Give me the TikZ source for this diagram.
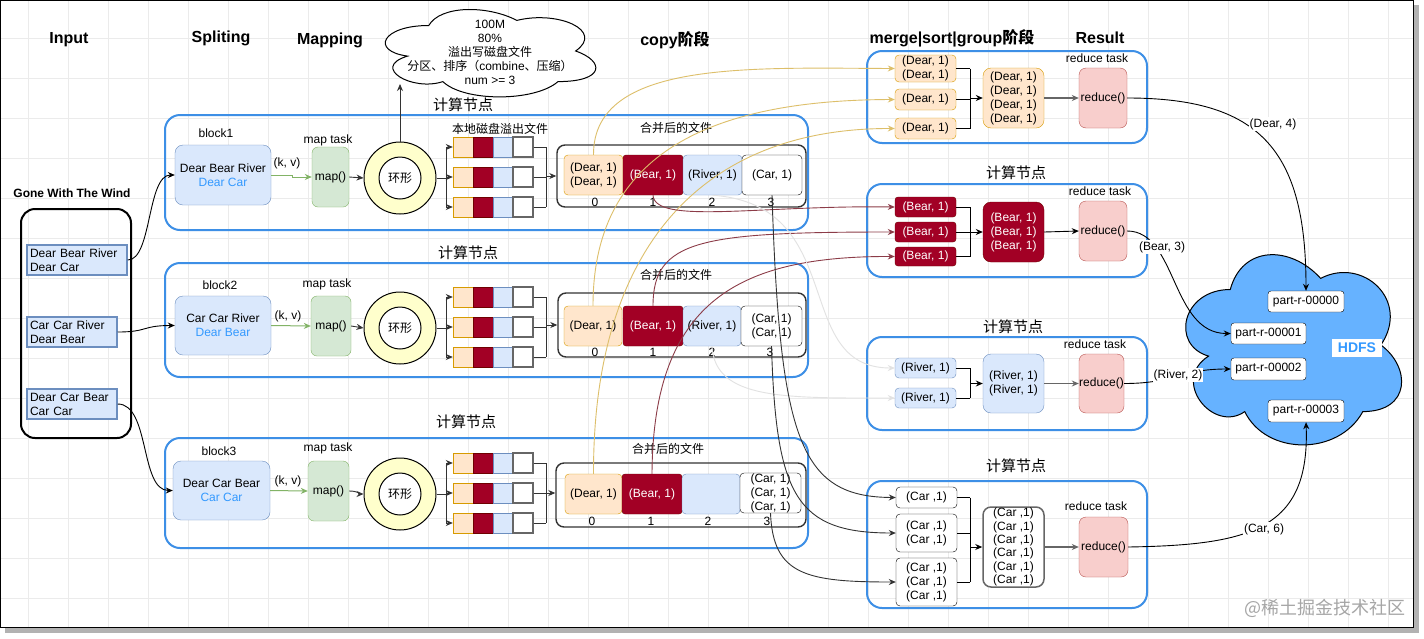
\documentclass[tikz,border=0pt]{standalone}
\usepackage{fontspec}
\setmainfont{Liberation Sans}
\newfontfamily\cjk{Noto Sans CJK SC}
\usetikzlibrary{arrows.meta}
\definecolor{nodeblue}{HTML}{3D8FE6}
\definecolor{peachF}{HTML}{FFE6CC}
\definecolor{peachD}{HTML}{D79B00}
\definecolor{redF}{HTML}{A20025}
\definecolor{redD}{HTML}{6F0000}
\definecolor{blueF}{HTML}{DAE8FC}
\definecolor{blueD}{HTML}{6C8EBF}
\definecolor{greenF}{HTML}{D5E8D4}
\definecolor{greenD}{HTML}{82B366}
\definecolor{pinkF}{HTML}{F8CECC}
\definecolor{pinkD}{HTML}{B85450}
\definecolor{ringF}{HTML}{FFFFCC}
\definecolor{txtblue}{HTML}{3399FF}
\definecolor{hdfsF}{HTML}{66B2FF}
\definecolor{ycurC}{HTML}{DDBF6A}
\definecolor{rcurC}{HTML}{8C3C48}
\definecolor{gcurC}{HTML}{E2E2E2}
\definecolor{gridc}{HTML}{EBEBEB}
\newcommand\myfs{\fontsize{12}{14}\selectfont}
\newcommand\myfh{\fontsize{16}{18}\selectfont\bfseries}
\newcommand\myfb{\fontsize{12}{14}\selectfont\bfseries}
\newcommand\myfcn{\cjk\fontsize{15}{17}\selectfont}
\newcommand\myfcs{\cjk\fontsize{12}{14}\selectfont}
\newcommand\bxat[7]{\node[#1,minimum width={(#5)-(#3)},minimum height={(#6)-(#4)}] (#2) at ({((#3)+(#5))/2},{((#4)+(#6))/2}) {#7};}
\newcommand\spill[2]{%
\bxat{spa}{#1a}{453}{#2}{473}{#2+20}{}%
\bxat{spb}{#1b}{473}{#2}{493}{#2+20}{}%
\bxat{spc}{#1c}{493}{#2}{513}{#2+20}{}%
\bxat{spd}{#1d}{513}{#2}{533}{#2+20}{}}
\tikzset{
  txt/.style={inner sep=0pt,align=center,font=\myfs},
  hdr/.style={inner sep=0pt,font=\myfh},
  cnl/.style={inner sep=0pt,font=\myfcn},
  csl/.style={inner sep=0pt,font=\myfcs},
  cnode/.style={draw=nodeblue,line width=2pt,rounded corners=15pt,inner sep=0pt},
  inframe/.style={draw=black,line width=2pt,rounded corners=14pt,inner sep=0pt},
  inbox/.style={draw=blueD,fill=blueF,line width=1.5pt,align=left,inner xsep=3pt,inner ysep=0pt,minimum height=30pt,font=\myfs},
  bblock/.style={txt,draw=blueD,fill=blueF,rounded corners=8pt},
  gbox/.style={txt,draw=greenD,fill=greenF,rounded corners=6pt},
  kbox/.style={txt,draw=pinkD,fill=pinkF,rounded corners=7pt},
  pbox/.style={txt,draw=peachD,fill=peachF,rounded corners=4pt},
  pboxm/.style={txt,draw=peachD,fill=peachF,rounded corners=8pt},
  rbox/.style={txt,draw=redD,fill=redF,text=white,rounded corners=3pt},
  rboxm/.style={txt,draw=redD,fill=redF,text=white,rounded corners=8pt},
  bbox/.style={txt,draw=blueD,fill=blueF,rounded corners=4pt},
  bboxm/.style={txt,draw=blueD,fill=blueF,rounded corners=8pt},
  wbox/.style={txt,draw=black,fill=white,rounded corners=4pt},
  wboxm/.style={txt,draw=black!60,line width=1.5pt,fill=white,rounded corners=8pt,font=\fontsize{12}{13.3}\selectfont},
  ptbox/.style={txt,draw=black,fill=white,rounded corners=3pt},
  spa/.style={draw=peachD,fill=peachF,inner sep=0pt},
  spb/.style={draw=redD,fill=redF,inner sep=0pt},
  spc/.style={draw=blueD,fill=blueF,inner sep=0pt},
  spd/.style={draw=black!60,fill=white,line width=1.3pt,inner sep=0pt},
  cont/.style={draw=black!80,line width=1.4pt,rounded corners=8pt,inner sep=0pt},
  ring/.style={circle,draw=black,line width=1pt,fill=ringF,minimum size=72pt,inner sep=0pt},
  ringi/.style={circle,draw=black,line width=1pt,fill=white,minimum size=42pt,inner sep=0pt,font=\myfcs},
  conn/.style={draw=black,line width=0.9pt},
  dk/.style={draw=black!80,line width=0.9pt},
  grn/.style={draw=greenD,line width=1pt},
  ycur/.style={draw=ycurC,line width=0.9pt},
  rcur/.style={draw=rcurC,line width=0.9pt},
  gcur/.style={draw=gcurC,line width=0.9pt},
  ccur/.style={draw=black!80,line width=0.9pt},
  elbl/.style={txt,fill=white,inner sep=1pt},
}
\begin{document}
\begin{tikzpicture}[x=1pt,y=-1pt,>={Stealth[length=7pt,width=6pt]}]
\useasboundingbox (0,0) rectangle (1424,638);
\fill[black!30] (5,5) rectangle (1419,633);
\fill[white] (0,0) rectangle (1414,628);
\foreach \gx in {28,68,...,1388} {\draw[gridc,line width=0.7pt] (\gx,1) -- (\gx,627);}
\foreach \gy in {38,78,...,598} {\draw[gridc,line width=0.7pt] (1,\gy) -- (1413,\gy);}
\draw[line width=1.3pt] (0.65,0.65) rectangle (1413.35,627.35);

% headers
\node[hdr] (hIn) at (69,40) {Input};
\node[hdr] (hSp) at (221,38) {Spliting};
\node[hdr] (hMp) at (330,40) {Mapping};
\node[hdr] (hCp) at (675,40) {copy{\cjk 阶段}};
\node[hdr] (hMg) at (952,38) {merge|sort|group{\cjk 阶段}};
\node[hdr] (hRs) at (1100,38) {Result};

% top cloud
\begin{scope}[shift={(370,0)},x=235pt,y=-102pt]
\draw[line width=1pt,fill=white] (0.25,0.25) .. controls (0.05,0.25) and (0,0.5) .. (0.16,0.55) .. controls (0,0.66) and (0.18,0.9) .. (0.31,0.8) .. controls (0.4,1) and (0.7,1) .. (0.8,0.8) .. controls (1,0.8) and (1,0.6) .. (0.875,0.5) .. controls (1,0.3) and (0.8,0.1) .. (0.625,0.2) .. controls (0.5,0.05) and (0.3,0.05) .. (0.25,0.25) -- cycle;
\end{scope}
\node[txt] (ctxt) at (490,52) {100M\\80\%\\{\cjk 溢出写磁盘文件}\\{\cjk 分区、排序（}combine{\cjk 、压缩）}\\num >= 3};
\coordinate (cloudin) at (400,84);

% input
\node[font=\myfb,inner sep=0pt] (gone) at (72,193) {Gone With The Wind};
\bxat{inframe}{inbig}{21}{209}{131}{438}{}
\node[inbox,text width=94pt] (in1) at (77,260) {Dear Bear River\\Dear Car};
\node[inbox,text width=84pt] (in2) at (72,332) {Car Car River\\Dear Bear};
\node[inbox,text width=84pt] (in3) at (72,404) {Dear Car Bear\\Car Car};

% compute nodes (left)
\bxat{cnode}{N1}{165}{115}{808}{230}{}
\bxat{cnode}{N2}{165}{263}{808}{377}{}
\bxat{cnode}{N3}{165}{438}{808}{548}{}
\node[cnl] (N1l) at (463,105) {计算节点};
\node[cnl] (N2l) at (468,253) {计算节点};
\node[cnl] (N3l) at (466,422) {计算节点};

% blocks
\node[txt] (bl1) at (216,133) {block1};
\node[txt] (bl2) at (220,285) {block2};
\node[txt] (bl3) at (219,451) {block3};
\bxat{bblock}{b1}{175}{145}{271}{205}{Dear Bear River\\\textcolor{txtblue}{Dear Car}}
\bxat{bblock}{b2}{175}{296}{271}{355}{Car Car River\\\textcolor{txtblue}{Dear Bear}}
\bxat{bblock}{b3}{173}{461}{270}{520}{Dear Car Bear\\\textcolor{txtblue}{Car Car}}
\node[txt] (kv1) at (287,163) {(k, v)};
\node[txt] (kv2) at (288,316) {(k, v)};
\node[txt] (kv3) at (288,481) {(k, v)};
\node[txt] (mt1) at (328,140) {map task};
\node[txt] (mt2) at (327,284) {map task};
\node[txt] (mt3) at (328,448) {map task};
\bxat{gbox}{m1}{312}{147}{349}{207}{map()}
\bxat{gbox}{m2}{311}{296}{351}{356}{map()}
\bxat{gbox}{m3}{308}{461}{349}{521}{map()}
\node[ring] (r1o) at (400,178) {};
\node[ringi] (r1i) at (400,178) {环形};
\node[ring] (r2o) at (400,328) {};
\node[ringi] (r2i) at (400,328) {环形};
\node[ring] (r3o) at (400,494) {};
\node[ringi] (r3i) at (400,494) {环形};

% spill files
\node[csl] (spl) at (500,129) {本地磁盘溢出文件};
\spill{s11}{137}\spill{s12}{167}\spill{s13}{197}
\spill{s21}{287}\spill{s22}{317}\spill{s23}{347}
\spill{s31}{453}\spill{s32}{483}\spill{s33}{513}

% merged files
\node[csl] (mf1) at (676,128) {合并后的文件};
\node[csl] (mf2) at (676,275) {合并后的文件};
\node[csl] (mf3) at (668,449) {合并后的文件};
\bxat{cont}{ct1}{557}{145}{806}{207}{}
\bxat{cont}{ct2}{558}{293}{806}{357}{}
\bxat{cont}{ct3}{556}{463}{806}{527}{}
\bxat{pbox}{ct1p0}{564}{155}{623}{195}{(Dear, 1)\\(Dear, 1)}
\bxat{rbox}{ct1p1}{623}{155}{683}{195}{(Bear, 1)}
\bxat{bbox}{ct1p2}{683}{155}{742}{195}{(River, 1)}
\bxat{wbox}{ct1p3}{742}{155}{802}{195}{(Car, 1)}
\bxat{pbox}{ct2p0}{564}{306}{622}{346}{(Dear, 1)}
\bxat{rbox}{ct2p1}{623}{306}{683}{346}{(Bear, 1)}
\bxat{bbox}{ct2p2}{683}{306}{741}{346}{(River, 1)}
\bxat{wbox}{ct2p3}{741}{306}{802}{346}{(Car, 1)\\(Car, 1)}
\bxat{pbox}{ct3p0}{565}{474}{622}{514}{(Dear, 1)}
\bxat{rbox}{ct3p1}{622}{474}{682}{514}{(Bear, 1)}
\bxat{bbox}{ct3p2}{682}{474}{740}{514}{}
\bxat{wbox}{ct3p3}{740}{473}{801}{513}{(Car, 1)\\(Car, 1)\\(Car, 1)}
\node[txt] (n10) at (595,202) {0};
\node[txt] (n11) at (653,202) {1};
\node[txt] (n12) at (712,202) {2};
\node[txt] (n13) at (771,202) {3};
\node[txt] (n20) at (595,352) {0};
\node[txt] (n21) at (653,352) {1};
\node[txt] (n22) at (712,352) {2};
\node[txt] (n23) at (770,352) {3};
\node[txt] (n30) at (592,521) {0};
\node[txt] (n31) at (651,521) {1};
\node[txt] (n32) at (708,521) {2};
\node[txt] (n33) at (767,521) {3};

% wiring inside left nodes
\draw[grn,->] (b1.east) -- ++(21,0) |- (m1.west);
\draw[grn,->] (b2.east) -- (m2.west);
\draw[grn,->] (b3.east) -- (m3.west);
\draw[dk,->] (m1.east) -- (r1o.west);
\draw[dk,->] (m2.east) -- (r2o.west);
\draw[dk,->] (m3.east) .. controls (358,491) and (360,494) .. (r3o.west);
\draw[dk,->] (r1o.north) -- (cloudin);

\coordinate (n1L) at (446,177);
\draw[dk] (r1o.east) -- (r1o.east -| n1L);
\draw[dk] (n1L |- s11a.west) -- (n1L |- s13a.west);
\draw[dk,->] (n1L |- s11a.west) -- (s11a.west);
\draw[dk,->] (n1L |- s12a.west) -- (s12a.west);
\draw[dk,->] (n1L |- s13a.west) -- (s13a.west);
\coordinate (n1R) at (546,176);
\draw[dk] (s11d.east) -- (n1R |- s11d.east);
\draw[dk] (s12d.east) -- (n1R |- s12d.east);
\draw[dk] (s13d.east) -- (n1R |- s13d.east);
\draw[dk] (n1R |- s11d.east) -- (n1R |- s13d.east);
\draw[dk,->] (n1R) -- (ct1.west |- n1R);

\coordinate (n2L) at (446,327);
\draw[dk] (r2o.east) -- (r2o.east -| n2L);
\draw[dk] (n2L |- s21a.west) -- (n2L |- s23a.west);
\draw[dk,->] (n2L |- s21a.west) -- (s21a.west);
\draw[dk,->] (n2L |- s22a.west) -- (s22a.west);
\draw[dk,->] (n2L |- s23a.west) -- (s23a.west);
\coordinate (n2R) at (546,325);
\draw[dk] (s21d.east) -- (n2R |- s21d.east);
\draw[dk] (s22d.east) -- (n2R |- s22d.east);
\draw[dk] (s23d.east) -- (n2R |- s23d.east);
\draw[dk] (n2R |- s21d.east) -- (n2R |- s23d.east);
\draw[dk,->] (n2R) -- (ct2.west |- n2R);

\coordinate (n3L) at (446,493);
\draw[dk] (r3o.east) -- (r3o.east -| n3L);
\draw[dk] (n3L |- s31a.west) -- (n3L |- s33a.west);
\draw[dk,->] (n3L |- s31a.west) -- (s31a.west);
\draw[dk,->] (n3L |- s32a.west) -- (s32a.west);
\draw[dk,->] (n3L |- s33a.west) -- (s33a.west);
\coordinate (n3R) at (546,493);
\draw[dk] (s31d.east) -- (n3R |- s31d.east);
\draw[dk] (s32d.east) -- (n3R |- s32d.east);
\draw[dk] (s33d.east) -- (n3R |- s33d.east);
\draw[dk] (n3R |- s31d.east) -- (n3R |- s33d.east);
\draw[dk,->] (n3R) -- (ct3.west |- n3R);

% right compute nodes
\bxat{cnode}{R1}{867}{51}{1147}{143}{}
\bxat{cnode}{R2}{867}{184}{1147}{277}{}
\bxat{cnode}{R3}{867}{337}{1147}{430}{}
\bxat{cnode}{R4}{867}{481}{1147}{608}{}
\node[cnl] (R2l) at (1016,173) {计算节点};
\node[cnl] (R3l) at (1013,327) {计算节点};
\node[cnl] (R4l) at (1016,466) {计算节点};
\node[txt] (rt1) at (1097,58) {reduce task};
\node[txt] (rt2) at (1100,191) {reduce task};
\node[txt] (rt3) at (1095,344) {reduce task};
\node[txt] (rt4) at (1096,506) {reduce task};

\bxat{pbox}{dr1}{895}{55}{956}{82}{(Dear, 1)\\(Dear, 1)}
\bxat{pbox}{dr2}{895}{89}{956}{110}{(Dear, 1)}
\bxat{pbox}{dr3}{895}{118}{956}{139}{(Dear, 1)}
\bxat{pboxm}{drm}{983}{68}{1044}{128}{(Dear, 1)\\(Dear, 1)\\(Dear, 1)\\(Dear, 1)}
\bxat{kbox}{rd1}{1079}{68}{1127}{128}{reduce()}

\bxat{rbox}{br1}{895}{197}{956}{217}{(Bear, 1)}
\bxat{rbox}{br2}{895}{222}{956}{242}{(Bear, 1)}
\bxat{rbox}{br3}{895}{247}{956}{266}{(Bear, 1)}
\bxat{rboxm}{brm}{983}{202}{1044}{262}{(Bear, 1)\\(Bear, 1)\\(Bear, 1)}
\bxat{kbox}{rd2}{1079}{201}{1127}{261}{reduce()}

\bxat{bbox}{rv1}{895}{358}{956}{378}{(River, 1)}
\bxat{bbox}{rv2}{895}{388}{956}{408}{(River, 1)}
\bxat{bboxm}{rvm}{983}{354}{1044}{413}{(River, 1)\\(River, 1)}
\bxat{kbox}{rd3}{1079}{354}{1124}{413}{reduce()}

\bxat{wbox}{cr1}{896}{487}{957}{508}{(Car ,1)}
\bxat{wbox}{cr2}{896}{514}{957}{552}{(Car ,1)\\(Car ,1)}
\bxat{wbox}{cr3}{896}{558}{957}{606}{(Car ,1)\\(Car ,1)\\(Car ,1)}
\bxat{wboxm}{crm}{983}{507}{1044}{587}{(Car ,1)\\(Car ,1)\\(Car ,1)\\(Car ,1)\\(Car ,1)\\(Car ,1)}
\bxat{kbox}{rd4}{1079}{517}{1128}{577}{reduce()}

% wiring inside right nodes
\coordinate (q1) at (970,98);
\draw[conn] (dr1.east) -- (q1 |- dr1.east);
\draw[conn] (dr2.east) -- (q1 |- dr2.east);
\draw[conn] (dr3.east) -- (q1 |- dr3.east);
\draw[conn] (q1 |- dr1.east) -- (q1 |- dr3.east);
\draw[conn,->] (q1) -- (drm.west |- q1);
\draw[draw=black!60,line width=1.8pt,->] (drm.east) -- (rd1.west);

\coordinate (q2) at (970,232);
\draw[conn] (br1.east) -- (q2 |- br1.east);
\draw[conn] (br2.east) -- (q2 |- br2.east);
\draw[conn] (br3.east) -- (q2 |- br3.east);
\draw[conn] (q2 |- br1.east) -- (q2 |- br3.east);
\draw[conn,->] (q2) -- (brm.west |- q2);
\draw[conn,->] (brm.east) -- (rd2.west);

\coordinate (q3) at (970,383.5);
\draw[conn] (rv1.east) -- (q3 |- rv1.east);
\draw[conn] (rv2.east) -- (q3 |- rv2.east);
\draw[conn] (q3 |- rv1.east) -- (q3 |- rv2.east);
\draw[conn,->] (q3) -- (rvm.west |- q3);
\draw[draw=black!60,line width=1.8pt,->] (rvm.east) -- (rd3.west);

\coordinate (q4) at (970,547);
\draw[conn] (cr1.east) -- (q4 |- cr1.east);
\draw[conn] (cr2.east) -- (q4 |- cr2.east);
\draw[conn] (cr3.east) -- (q4 |- cr3.east);
\draw[conn] (q4 |- cr1.east) -- (q4 |- cr3.east);
\draw[conn,->] (q4) -- (crm.west |- q4);
\draw[draw=black!60,line width=1.8pt,->] (crm.east) -- (rd4.west);

% HDFS cloud
\begin{scope}[shift={(1170,234)},x=241pt,y=-222pt]
\draw[line width=1pt,fill=hdfsF] (0.25,0.25) .. controls (0.05,0.25) and (0,0.5) .. (0.16,0.55) .. controls (0,0.66) and (0.18,0.9) .. (0.31,0.8) .. controls (0.4,1) and (0.7,1) .. (0.8,0.8) .. controls (1,0.8) and (1,0.6) .. (0.875,0.5) .. controls (1,0.3) and (0.8,0.1) .. (0.625,0.2) .. controls (0.5,0.05) and (0.3,0.05) .. (0.25,0.25) -- cycle;
\end{scope}
\bxat{ptbox}{p0}{1268}{291}{1344}{312}{part-r-00000}
\bxat{ptbox}{p1}{1231}{323}{1306}{344}{part-r-00001}
\bxat{ptbox}{p2}{1231}{358}{1306}{380}{part-r-00002}
\bxat{ptbox}{p3}{1268}{400}{1344}{422}{part-r-00003}
\bxat{txt,fill=white,text=txtblue,font=\fontsize{14}{16}\selectfont\bfseries}{hdfs}{1332}{339}{1382}{357}{HDFS}

% input connectors
\draw[conn,->] (in1.east) .. controls (152,260) and (147,175) .. (b1.west);
\draw[conn,->] (in2.east) .. controls (148,332) and (142,325.5) .. (b2.west);
\draw[conn,->] (in3.east) .. controls (150,404) and (140,490.5) .. (b3.west);

% copy-phase connectors
\draw[ycur,->] (ct1p0.north) .. controls (593,60) and (750,68) .. (dr1.west);
\draw[ycur,->] (ct2p0.north) .. controls (593,160) and (700,100) .. (dr2.west);
\draw[ycur,->] (ct3p0.north) .. controls (593,250) and (700,128) .. (dr3.west);
\draw[rcur,->] (ct1p1.south) .. controls (655,225) and (760,205) .. (br1.west);
\draw[rcur,->] (ct2p1.north) .. controls (653,240) and (700,232) .. (br2.west);
\draw[rcur,->] (ct3p1.north) .. controls (653,300) and (740,256) .. (br3.west);
\draw[gcur,->] (ct1p2.south) .. controls (850,205) and (790,368) .. (rv1.west);
\draw[gcur,->] (ct2p2.south) .. controls (715,400) and (785,398) .. (rv2.west);
\draw[ccur,->] (ct1p3.south) .. controls (780,440) and (800,497) .. (cr1.west);
\draw[ccur,->] (ct2p3.south) .. controls (776,496) and (796,533) .. (cr2.west);
\draw[ccur,->] (ct3p3.south) .. controls (773,575) and (806,582) .. (cr3.west);

% output connectors
\draw[conn,->] (rd1.east) .. controls (1260,98) and (1306,150) .. (p0.north);
\draw[conn,->] (rd2.east) .. controls (1177,231) and (1171,333.5) .. (p1.west);
\draw[conn,->] (rd3.east) .. controls (1175,383.5) and (1180,369) .. (p2.west);
\draw[conn,->] (rd4.east) .. controls (1250,545) and (1310,530) .. (p3.south);
\node[elbl] (l1) at (1273,124) {(Dear, 4)};
\node[elbl] (l2) at (1162,247) {(Bear, 3)};
\node[elbl] (l3) at (1178,375) {(River, 2)};
\node[elbl] (l4) at (1264,529) {(Car, 6)};

% watermark
\node[inner sep=0pt,font=\cjk\fontsize{18}{20}\selectfont,text=black!35] (wm) at (1325,608) {@稀土掘金技术社区};
\end{tikzpicture}
\end{document}
